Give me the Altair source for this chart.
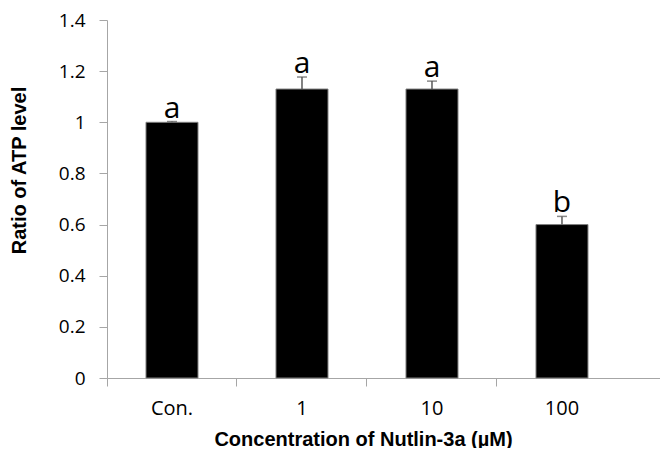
import altair as alt
import pandas as pd

categories = ["Con.", "1", "10", "100"]
values = [1.00, 1.13, 1.13, 0.60]
errors = [0.003, 0.047, 0.031, 0.032]
letters = ["a", "a", "a", "b"]
y_ticks = [0, 0.2, 0.4, 0.6, 0.8, 1.0, 1.2, 1.4]

df = pd.DataFrame({"cat": categories, "val": values, "err": errors, "lab": letters})
df["top"] = df["val"] + df["err"]

FONT = "Open Sans"
TFONT = "Liberation Sans"
AX = "#a6a6a6"

xs = alt.Scale(domain=categories, paddingInner=0, paddingOuter=0.127, align=0)
ys = alt.Scale(domain=[0, 1.4], nice=False)

x_enc = alt.X("cat:N", scale=xs, sort=categories,
              axis=alt.Axis(title="Concentration of Nutlin-3a (µM)", labelAngle=0,
                            bandPosition=0, domainColor=AX, tickColor=AX, tickSize=8,
                            labelFont=FONT, labelFontSize=20, labelColor="#000000",
                            labelPadding=12, titleFont=TFONT, titleFontSize=20,
                            titleFontWeight="bold", titleColor="#000000", titlePadding=11,
                            titleX=256))
y_axis = alt.Axis(title="Ratio of ATP level", values=y_ticks, format=".1~f", grid=False,
                  domainColor=AX, tickColor=AX, tickSize=8, labelFont=FONT,
                  labelFontSize=19, labelColor="#000000", labelPadding=14,
                  titleFont=TFONT, titleFontSize=20, titleFontWeight="bold",
                  titleColor="#000000", titlePadding=29, titleY=150)

base = alt.Chart(df)

bars = base.mark_bar(color="#000000", stroke="#808080", strokeWidth=1,
                     width=alt.RelativeBandSize(0.4)).encode(
    x=x_enc, y=alt.Y("val:Q", scale=ys, axis=y_axis))

err_line = base.mark_rule(color="#595959", strokeWidth=1.5).encode(
    x="cat:N", y="val:Q", y2="top:Q")
err_cap = base.mark_tick(color="#595959", thickness=1.5, size=10, orient="horizontal").encode(
    x="cat:N", y="top:Q")
text = base.mark_text(font=FONT, fontSize=30, baseline="alphabetic", dy=-4,
                      color="#000000").encode(x="cat:N", y="top:Q", text="lab:N")

chart = alt.layer(bars, err_line, err_cap, text).properties(
    width=553, height=358,
    autosize=alt.AutoSizeParams(type="none"),
    padding={"left": 99, "top": 12, "right": 0, "bottom": 70},
).configure_view(stroke=None)

chart.save("out.html", embed_options={"renderer": "svg", "actions": False})
